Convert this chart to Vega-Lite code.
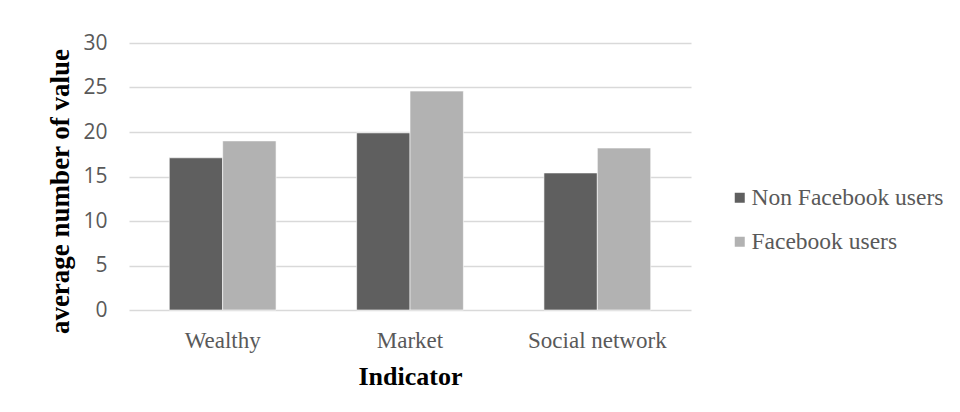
{
  "$schema": "https://vega.github.io/schema/vega-lite/v6.json",
  "autosize": {"type": "none"},
  "width": 562,
  "height": 267,
  "padding": {"left": 129, "top": 43, "right": 269, "bottom": 102},
  "background": "white",
  "data": {
    "values": [
      {"indicator": "Wealthy", "group": "Non Facebook users", "value": 17.1},
      {"indicator": "Wealthy", "group": "Facebook users", "value": 19.0},
      {"indicator": "Market", "group": "Non Facebook users", "value": 19.9},
      {"indicator": "Market", "group": "Facebook users", "value": 24.6},
      {"indicator": "Social network", "group": "Non Facebook users", "value": 15.4},
      {"indicator": "Social network", "group": "Facebook users", "value": 18.2}
    ]
  },
  "mark": {"type": "bar", "stroke": "white", "strokeWidth": 0.6},
  "encoding": {
    "x": {
      "field": "indicator",
      "type": "nominal",
      "sort": ["Wealthy", "Market", "Social network"],
      "scale": {"paddingInner": 0.43, "paddingOuter": 0.215},
      "axis": {
        "title": "Indicator",
        "labelAngle": 0,
        "labelFont": "Liberation Serif",
        "labelFontSize": 23,
        "labelColor": "#595959",
        "labelBaseline": "alphabetic",
        "labelPadding": 37,
        "ticks": false,
        "domain": false,
        "titleFont": "Liberation Serif",
        "titleFontSize": 26,
        "titleFontWeight": "bold",
        "titleColor": "#000000",
        "titleBaseline": "alphabetic",
        "titleY": 74,
        "titleX": 281
      }
    },
    "xOffset": {
      "field": "group",
      "type": "nominal",
      "sort": ["Non Facebook users", "Facebook users"],
      "scale": {"paddingInner": 0, "paddingOuter": 0}
    },
    "y": {
      "field": "value",
      "type": "quantitative",
      "scale": {"domain": [0, 30], "nice": false},
      "axis": {
        "title": "average number of value",
        "values": [0, 5, 10, 15, 20, 25, 30],
        "labelFont": "Open Sans",
        "labelFontSize": 21,
        "labelColor": "#595959",
        "labelPadding": 22,
        "ticks": false,
        "domain": false,
        "grid": true,
        "gridColor": "#d9d9d9",
        "gridWidth": 1.3,
        "titleFont": "Liberation Serif",
        "titleFontSize": 27,
        "titleFontWeight": "bold",
        "titleColor": "#000000",
        "titleBaseline": "alphabetic",
        "titleAngle": 270,
        "titleAlign": "center",
        "titleX": -61,
        "titleY": 148
      }
    },
    "color": {
      "field": "group",
      "type": "nominal",
      "sort": ["Non Facebook users", "Facebook users"],
      "scale": {"domain": ["Non Facebook users", "Facebook users"], "range": ["#5f5f5f", "#b2b2b2"]},
      "legend": {
        "title": null,
        "orient": "none",
        "legendX": 599,
        "legendY": 143,
        "symbolType": "square",
        "symbolSize": 100,
        "symbolStrokeWidth": 0,
        "labelFont": "Liberation Serif",
        "labelFontSize": 23.5,
        "labelColor": "#595959",
        "labelOffset": 0,
        "rowPadding": 19,
        "labelLimit": 300
      }
    }
  },
  "config": {"view": {"stroke": null}}
}
